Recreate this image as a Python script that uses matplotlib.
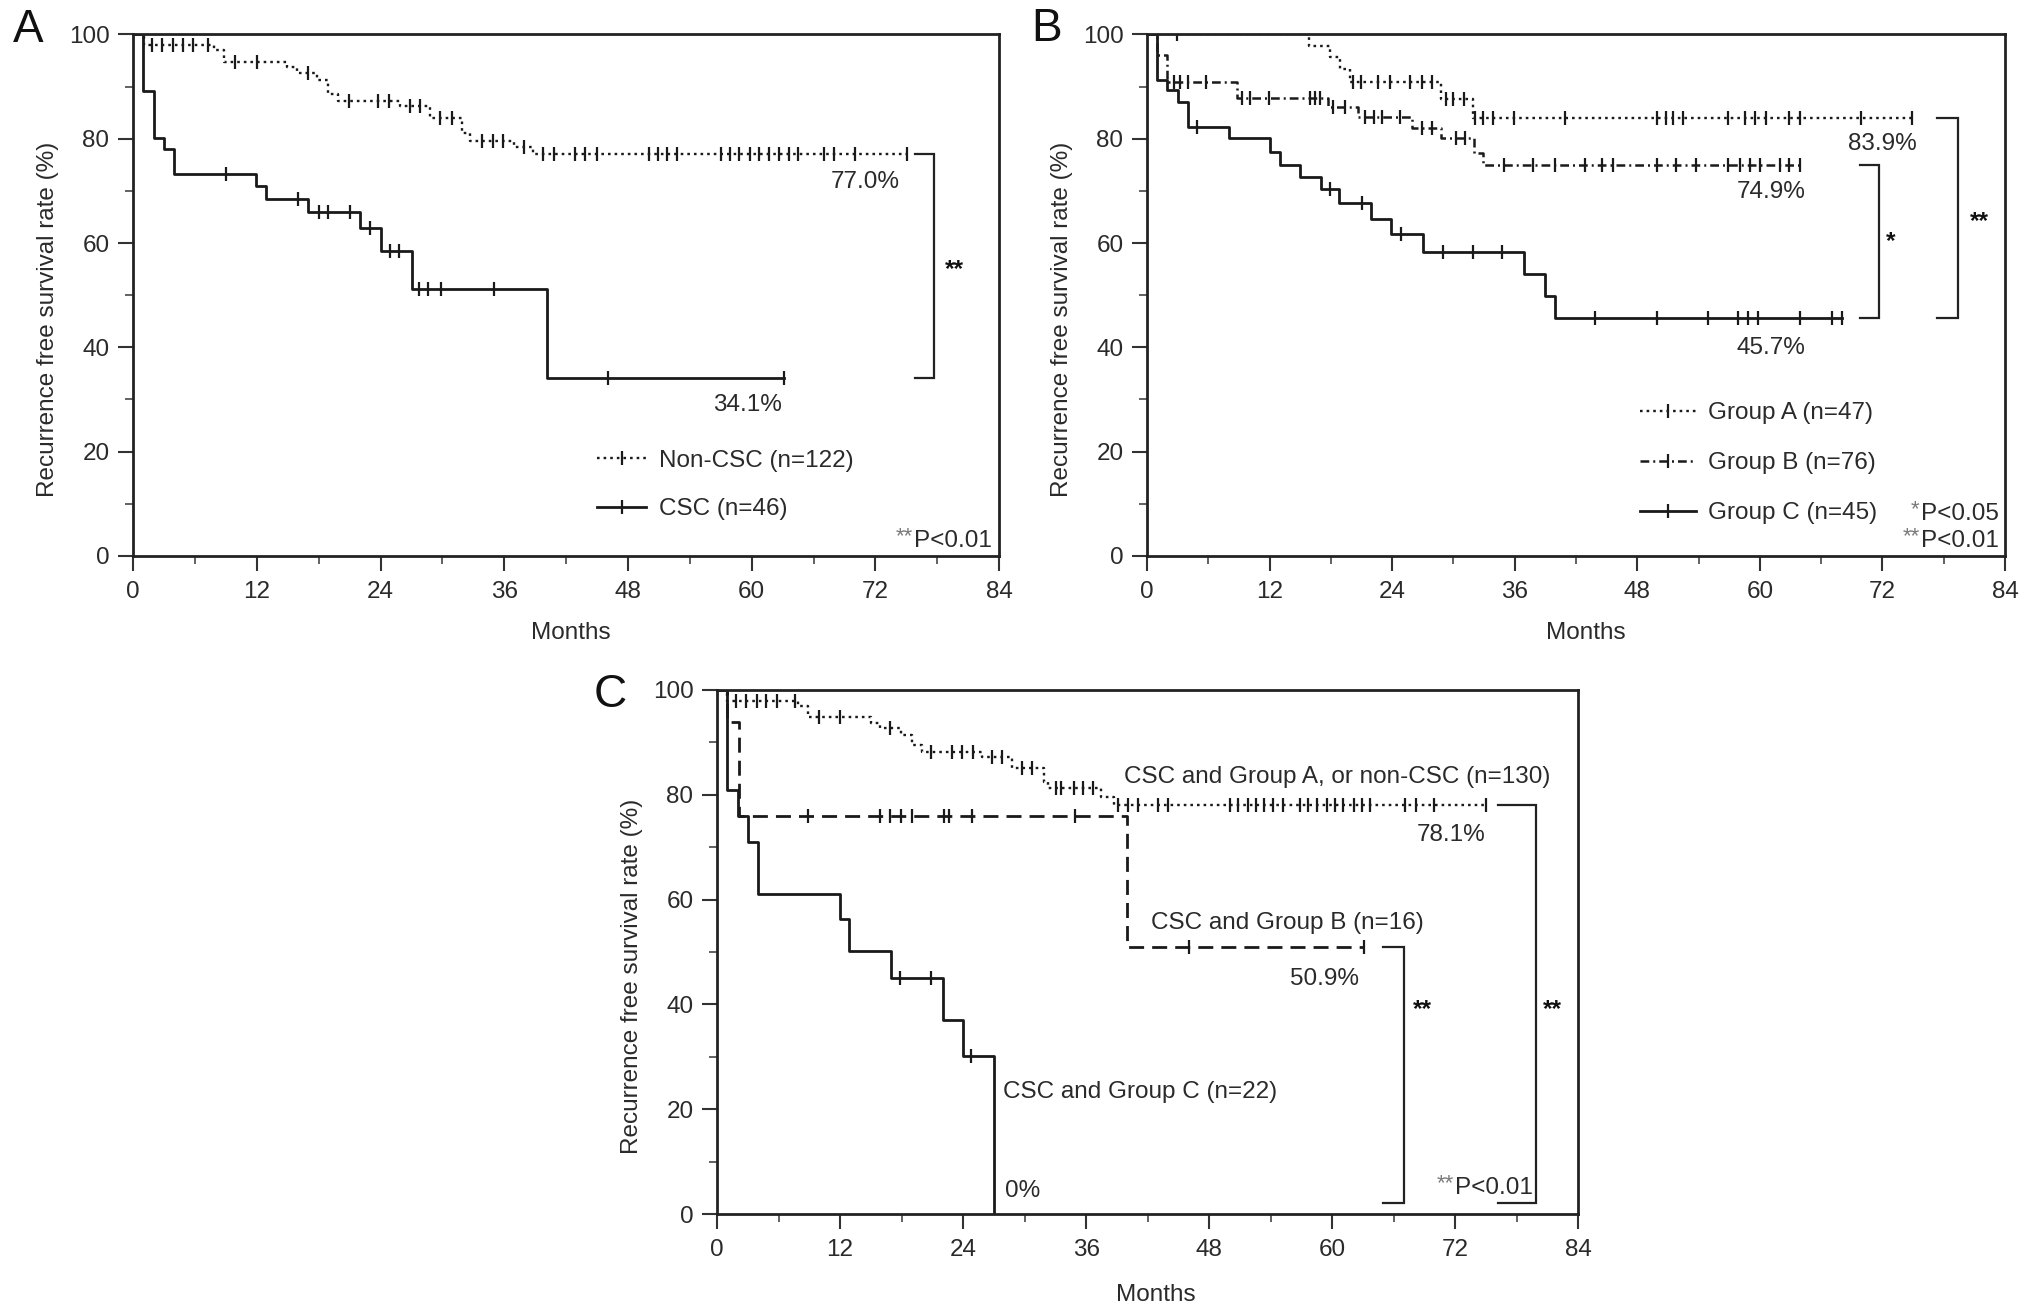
import numpy as np
import matplotlib
matplotlib.use("Agg")
import matplotlib.pyplot as plt
from matplotlib.lines import Line2D
from matplotlib.ticker import MultipleLocator

plt.rcParams['font.family'] = ['Liberation Sans', 'DejaVu Sans']

# ---------------- data (months / survival %) ----------------
# Panel A
a_noncsc_t = [1.1, 7.8, 8.8, 14.9, 15.9, 17.8, 18.9, 19.9, 25.9, 28.8, 31.9, 32.7, 36.9, 38.8]
a_noncsc_s = [98.0, 97.1, 94.8, 93.7, 92.6, 91.3, 88.6, 87.2, 86.2, 83.9, 81.1, 79.5, 78.5, 77.0]
a_noncsc_c = [1.8, 2.8, 3.9, 4.8, 5.8, 7.3, 9.9, 12.0, 17.0, 20.9, 23.8, 24.8, 26.9, 27.8,
              29.8, 30.9, 33.8, 34.9, 35.9, 37.9, 39.8, 40.8, 42.9, 43.8, 45.0, 50.0, 50.9,
              51.8, 52.8, 57.0, 57.9, 58.8, 59.8, 60.7, 61.7, 62.6, 63.6, 64.5, 67.0, 68.0, 70.0]
a_noncsc_end = 75.1

a_csc_t = [1.0, 2.0, 3.0, 4.0, 11.9, 12.9, 17.0, 22.0, 24.0, 27.1, 40.1]
a_csc_s = [89.1, 80.2, 78.1, 73.3, 71.0, 68.5, 66.0, 62.8, 58.5, 51.2, 34.1]
a_csc_c = [9.0, 16.0, 18.0, 18.9, 21.0, 23.0, 24.9, 25.8, 27.7, 28.6, 29.9, 35.0, 46.1]
a_csc_end = 63.1

# Panel B
b_ga_t = [15.9, 17.9, 18.9, 19.9, 28.8, 31.9]
b_ga_s = [97.8, 95.6, 93.4, 90.9, 87.6, 83.9]
b_ga_c = [2.9, 20.2, 20.9, 22.6, 23.8, 25.7, 26.9, 27.9, 29.3, 30.0, 31.0, 32.1, 32.9, 33.9,
          35.9, 40.9, 49.9, 50.8, 51.5, 52.5, 56.9, 58.5, 59.5, 60.6, 62.9, 63.9, 69.9]
b_ga_end = 74.9

b_gb_t = [0.95, 2.0, 8.8, 17.7, 20.7, 25.9, 28.8, 32.0, 32.9]
b_gb_s = [96.1, 90.8, 87.8, 86.0, 84.1, 82.0, 80.1, 77.3, 74.9]
b_gb_c = [2.6, 3.2, 4.0, 5.8, 9.3, 10.1, 11.9, 16.0, 16.4, 16.9, 18.2, 19.4, 21.3, 22.2, 23.0,
          24.8, 26.9, 27.9, 30.2, 31.1, 34.9, 37.8, 39.9, 42.9, 44.5, 45.6, 49.9, 51.8, 53.7,
          56.9, 58.1, 59.0, 60.0, 62.0, 62.9]
b_gb_end = 63.9

b_gc_t = [0.95, 2.0, 3.0, 4.0, 8.0, 12.0, 13.0, 15.0, 17.0, 18.8, 21.9, 23.9, 27.0, 36.9, 39.0, 39.9]
b_gc_s = [91.2, 89.4, 87.1, 82.3, 80.1, 77.5, 75.0, 72.7, 70.3, 67.6, 64.7, 61.8, 58.3, 54.1, 49.9, 45.7]
b_gc_c = [4.9, 17.9, 21.0, 24.9, 29.0, 31.9, 34.8, 43.9, 49.9, 54.9, 57.9, 58.8, 59.8, 63.9, 67.1]
b_gc_end = 68.0

# Panel C
c_a_t = [1.0, 7.9, 8.9, 15.0, 15.9, 17.9, 19.0, 20.0, 25.8, 28.8, 31.9, 32.3, 37.5, 38.7]
c_a_s = [97.9, 97.0, 94.8, 93.7, 92.7, 91.4, 89.5, 88.2, 87.3, 85.1, 82.5, 81.2, 79.6, 78.1]
c_a_c = [1.8, 2.8, 3.9, 4.8, 5.8, 7.6, 9.9, 12.0, 16.9, 20.9, 22.9, 23.9, 25.0, 26.8, 27.8,
         29.7, 30.7, 33.1, 33.6, 34.8, 35.7, 36.7, 39.1, 40.1, 41.1, 43.0, 44.0, 50.0, 50.8,
         51.8, 52.6, 53.4, 54.2, 55.2, 56.9, 57.7, 58.5, 59.5, 60.3, 61.1, 62.1, 62.9, 63.7,
         67.1, 68.2, 69.9]
c_a_end = 75.0

c_b_t = [1.0, 2.1, 40.0]
c_b_s = [93.8, 76.0, 50.9]
c_b_c = [8.9, 15.9, 16.9, 17.9, 19.0, 22.1, 22.6, 24.9, 34.9, 46.0]
c_b_end = 63.1

c_c_t = [1.0, 2.0, 3.0, 4.0, 12.0, 12.9, 17.0, 22.0, 24.0, 27.0]
c_c_s = [80.9, 76.0, 71.0, 61.0, 56.3, 50.2, 45.1, 37.0, 30.1, 0.0]
c_c_c = [17.8, 20.9, 24.8]
c_c_end = 27.0

ink = '#2a2a2a'
line_col = '#1a1a1a'
fs = 17.5

dotted = dict(ls=(0, (1.1, 1.7)), lw=1.7)
dashdot = dict(ls=(0, (3.5, 1.6, 0.8, 1.6)), lw=1.8)
longdash = dict(ls=(0, (5.4, 2.9)), lw=2.0)
solid = dict(ls='-', lw=2.0)


def km(ax, t, s, cens, end, style):
    x = [0] + list(t) + [end]
    y = [100] + list(s) + [s[-1]]
    ax.step(x, y, where='post', color=line_col, **style)
    c = list(cens) + ([end] if s[-1] > 0 else [])
    idx = np.searchsorted(t, c, side='right')
    cy = [100 if i == 0 else s[i - 1] for i in idx]
    ax.plot(c, cy, ls='none', marker='|', ms=10, mew=1.6, color=line_col)


def handle(style):
    return Line2D([], [], color=line_col, marker='|', ms=10, mew=1.6, **style)


def style_axes(ax, xl_y, xl_x):
    ax.set_xlim(0, 84)
    ax.set_ylim(0, 100)
    ax.xaxis.set_major_locator(MultipleLocator(12))
    ax.xaxis.set_minor_locator(MultipleLocator(6))
    ax.yaxis.set_major_locator(MultipleLocator(20))
    ax.yaxis.set_minor_locator(MultipleLocator(10))
    ax.tick_params(which='major', length=11, width=1.5, labelsize=fs, color='#333333', labelcolor=ink)
    ax.tick_params(which='minor', length=6, width=1.3, color='#555555')
    ax.tick_params(axis='x', which='major', pad=7)
    ax.tick_params(axis='y', which='major', pad=6)
    for sp in ax.spines.values():
        sp.set_linewidth(2.0)
        sp.set_color('#222222')
    ax.set_xlabel('Months', fontsize=fs, color=ink)
    ax.set_ylabel('Recurrence free survival rate (%)', fontsize=fs, color=ink)
    ax.xaxis.set_label_coords(xl_x, xl_y)
    ax.yaxis.set_label_coords(-0.086, 0.454)


def bracket(ax, xs, xv, ytop, ybot, stars, sx, sy):
    ax.plot([xs, xv, xv, xs], [ytop, ytop, ybot, ybot], color='#222222', lw=1.6,
            solid_joinstyle='miter')
    ax.text(sx, sy - 1.0, stars, fontsize=fs, fontweight='bold', color='#111111',
            ha='center', va='center')


def pval(ax, x, y, stars, label):
    t = ax.text(x, y, label, fontsize=fs, color=ink, ha='right', va='baseline')
    ax.annotate(stars, xy=(0, 1), xycoords=t, xytext=(-1, 3), textcoords='offset points',
                ha='right', va='top', fontsize=16, color='#7a7a7a')


fig = plt.figure(figsize=(20.32, 13.14), dpi=100)
ax_a = fig.add_axes([0.0655, 0.5769, 0.4262, 0.3969])
ax_b = fig.add_axes([0.5645, 0.5769, 0.4222, 0.3969])
ax_c = fig.add_axes([0.3529, 0.0761, 0.4237, 0.3988])

# ---------------- panel A ----------------
km(ax_a, a_noncsc_t, a_noncsc_s, a_noncsc_c, a_noncsc_end, dotted)
km(ax_a, a_csc_t, a_csc_s, a_csc_c, a_csc_end, solid)
style_axes(ax_a, -0.127, 0.506)
ax_a.text(74.4, 71.7, '77.0%', fontsize=fs, color=ink, ha='right', va='center')
ax_a.text(62.9, 28.9, '34.1%', fontsize=fs, color=ink, ha='right', va='center')
bracket(ax_a, 75.8, 77.7, 77.0, 34.1, '**', 79.7, 55.9)
ax_a.legend([handle(dotted), handle(solid)], ['Non-CSC (n=122)', 'CSC (n=46)'],
            loc='center left', bbox_to_anchor=(0.536, 0.136), frameon=False, fontsize=fs,
            handlelength=2.0, handletextpad=0.55, labelspacing=1.1, borderpad=0,
            borderaxespad=0, labelcolor=ink)
pval(ax_a, 83.3, 1.7, '**', 'P<0.01')

# ---------------- panel B ----------------
km(ax_b, b_ga_t, b_ga_s, b_ga_c, b_ga_end, dotted)
km(ax_b, b_gb_t, b_gb_s, b_gb_c, b_gb_end, dashdot)
km(ax_b, b_gc_t, b_gc_s, b_gc_c, b_gc_end, solid)
style_axes(ax_b, -0.127, 0.511)
ax_b.text(75.4, 79.0, '83.9%', fontsize=fs, color=ink, ha='right', va='center')
ax_b.text(64.5, 69.7, '74.9%', fontsize=fs, color=ink, ha='right', va='center')
ax_b.text(64.5, 39.9, '45.7%', fontsize=fs, color=ink, ha='right', va='center')
bracket(ax_b, 69.8, 71.7, 74.9, 45.7, '*', 72.8, 61.2)
bracket(ax_b, 77.3, 79.4, 83.9, 45.7, '**', 81.5, 65.2)
ax_b.legend([handle(dotted), handle(dashdot), handle(solid)],
            ['Group A (n=47)', 'Group B (n=76)', 'Group C (n=45)'],
            loc='center left', bbox_to_anchor=(0.575, 0.178), frameon=False, fontsize=fs,
            handlelength=2.27, handletextpad=0.5, labelspacing=1.15, borderpad=0,
            borderaxespad=0, labelcolor=ink)
pval(ax_b, 83.4, 6.9, '*', 'P<0.05')
pval(ax_b, 83.4, 1.7, '**', 'P<0.01')

# ---------------- panel C ----------------
km(ax_c, c_a_t, c_a_s, c_a_c, c_a_end, dotted)
km(ax_c, c_b_t, c_b_s, c_b_c, c_b_end, longdash)
km(ax_c, c_c_t, c_c_s, c_c_c, c_c_end, solid)
style_axes(ax_c, -0.133, 0.509)
ax_c.text(39.7, 83.4, 'CSC and Group A, or non-CSC (n=130)', fontsize=fs, color=ink, ha='left', va='center')
ax_c.text(75.0, 72.3, '78.1%', fontsize=fs, color=ink, ha='right', va='center')
ax_c.text(42.3, 55.5, 'CSC and Group B (n=16)', fontsize=fs, color=ink, ha='left', va='center')
ax_c.text(62.6, 44.8, '50.9%', fontsize=fs, color=ink, ha='right', va='center')
ax_c.text(27.9, 23.3, 'CSC and Group C (n=22)', fontsize=fs, color=ink, ha='left', va='center')
ax_c.text(28.1, 4.3, '0%', fontsize=fs, color=ink, ha='left', va='center')
bracket(ax_c, 65.0, 67.0, 50.9, 2.1, '**', 68.8, 40.1)
bracket(ax_c, 76.2, 79.9, 78.1, 2.1, '**', 81.5, 40.1)
pval(ax_c, 79.6, 3.8, '**', 'P<0.01')

# panel letters
fig.text(0.0138, 0.9772, 'A', fontsize=33, color='#111111', ha='center', va='center')
fig.text(0.5148, 0.9779, 'B', fontsize=33, color='#111111', ha='center', va='center')
fig.text(0.3002, 0.4711, 'C', fontsize=33, color='#111111', ha='center', va='center')

fig.savefig('out.png', dpi=100)
